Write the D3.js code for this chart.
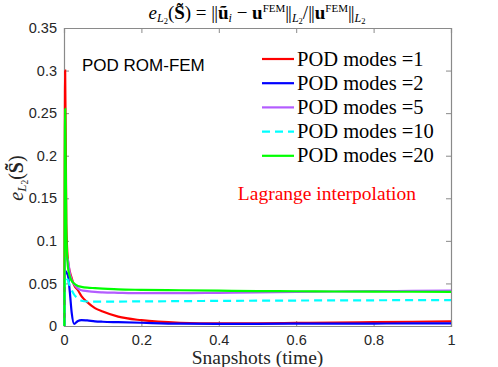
<!DOCTYPE html>
<html><head><meta charset="utf-8">
<script src="https://cdn.jsdelivr.net/npm/d3@7"></script>
<style>body{margin:0;background:#fff}</style>
</head><body>
<svg id="c" width="498" height="367"></svg>
<script>
const times = [0.001,0.003,0.006,0.01,0.015,0.02,0.026,0.036,0.045,0.06,0.08,0.1,0.14,0.2,0.3,0.4,0.5,0.6,0.7,0.8,0.9,1.0];
const modes1  = [0,0.30,0.12,0.077,0.064,0.056,0.048,0.042,0.035,0.028,0.021,0.017,0.011,0.0068,0.0038,0.003,0.0032,0.0036,0.004,0.0045,0.005,0.0055];
const modes2  = [0,0.065,0.063,0.06,0.04,0.015,0.0025,0.006,0.007,0.0065,0.0055,0.005,0.0045,0.0038,0.0028,0.0026,0.0026,0.0027,0.0028,0.0029,0.003,0.003];
const modes5  = [0,0.08,0.08,0.078,0.062,0.054,0.049,0.044,0.042,0.041,0.040,0.0395,0.039,0.0385,0.0385,0.039,0.0395,0.040,0.0405,0.041,0.0412,0.0415];
const modes10 = [0,0.058,0.056,0.054,0.047,0.042,0.037,0.0325,0.0297,0.0288,0.0286,0.0286,0.0287,0.0289,0.0292,0.0295,0.0297,0.0299,0.0301,0.0302,0.0304,0.0305];
const modes20 = [0,0.255,0.11,0.07,0.058,0.053,0.05,0.047,0.046,0.045,0.0445,0.044,0.043,0.0425,0.042,0.0415,0.041,0.0408,0.0405,0.0403,0.0402,0.040];
const seriesNames = ["POD modes =1","POD modes =2","POD modes =5","POD modes =10","POD modes =20"];
const xTicks = [0,0.2,0.4,0.6,0.8,1];
const yTicks = [0,0.05,0.1,0.15,0.2,0.25,0.3,0.35];

const series = [
  {name:seriesNames[0], vals:modes1,  color:"#ff0000", dash:null},
  {name:seriesNames[1], vals:modes2,  color:"#0000ff", dash:null},
  {name:seriesNames[2], vals:modes5,  color:"#b35cff", dash:null},
  {name:seriesNames[3], vals:modes10, color:"#00ffff", dash:"8,5"},
  {name:seriesNames[4], vals:modes20, color:"#00ff00", dash:null}
];

const L=64,R=451,T=28,B=326;
const svg=d3.select("#c");
const x=d3.scaleLinear().domain([0,1]).range([L,R]);
const y=d3.scaleLinear().domain([0,0.35]).range([B,T]);
const axisCol="#8a8a8a", txtCol="#262626";
const sans="'Liberation Sans', Arial, sans-serif";
const serif="'Liberation Serif','Times New Roman',serif";

// axes
const gx=svg.append("g").attr("transform",`translate(0,${B})`).call(d3.axisBottom(x).tickValues(xTicks).tickSize(-5).tickPadding(9).tickFormat(d=>d3.format("")(d)));
const gxt=svg.append("g").attr("transform",`translate(0,${T})`).call(d3.axisTop(x).tickValues(xTicks).tickSize(-5).tickFormat(""));
const gy=svg.append("g").attr("transform",`translate(${L},0)`).call(d3.axisLeft(y).tickValues(yTicks).tickSize(-5).tickPadding(7).tickFormat(d=>d3.format("")(+d.toFixed(2))));
const gyr=svg.append("g").attr("transform",`translate(${R},0)`).call(d3.axisRight(y).tickValues(yTicks).tickSize(-5).tickFormat(""));
[gx,gxt,gy,gyr].forEach(g=>{
  g.selectAll("path").attr("stroke",axisCol).attr("stroke-width",1.2);
  g.selectAll("line").attr("stroke",axisCol);
  g.selectAll("text").attr("fill",txtCol).style("font-family",sans).style("font-size","14.5px");
});

// lines
const line=d3.line().x(d=>x(d[0])).y(d=>y(d[1])).curve(d3.curveMonotoneX);
series.forEach(s=>{
  svg.append("path").datum(times.map((t,i)=>[t,s.vals[i]]))
    .attr("d",line).attr("fill","none").attr("stroke",s.color).attr("stroke-width",2.2)
    .attr("stroke-dasharray",s.dash);
});

// legend
series.forEach((s,i)=>{
  const yy=59+i*24.2;
  svg.append("line").attr("x1",262).attr("x2",294).attr("y1",yy).attr("y2",yy)
    .attr("stroke",s.color).attr("stroke-width",2.2).attr("stroke-dasharray",s.dash);
  svg.append("text").attr("x",297).attr("y",yy+6.5).text(s.name)
    .style("font-family",serif).style("font-size","20.5px").attr("fill","#000");
});

svg.append("text").attr("x",82).attr("y",71).text("POD ROM-FEM")
  .style("font-family",sans).style("font-size","17px").attr("fill","#000");
svg.append("text").attr("x",416).attr("y",200).attr("text-anchor","end").text("Lagrange interpolation")
  .style("font-family",serif).style("font-size","19.5px").attr("fill","#ff0000");

// x label
svg.append("text").attr("x",(L+R)/2).attr("y",364).attr("text-anchor","middle").text("Snapshots (time)")
  .style("font-family",serif).style("font-size","19.5px").attr("fill",txtCol);

// y label
const yl=svg.append("text").attr("transform","translate(23,178) rotate(-90)").attr("text-anchor","middle")
  .style("font-family",serif).style("font-size","20px").attr("fill",txtCol);
yl.append("tspan").style("font-style","italic").text("e");
yl.append("tspan").attr("dy",3).style("font-size","13px").style("font-style","italic").text("L");
yl.append("tspan").attr("dy",2).style("font-size","9.5px").text("2");
yl.append("tspan").attr("dy",-5).text("(");
yl.append("tspan").style("font-weight","bold").text("S\u0303");
yl.append("tspan").text(")");

// title
const bar="||";
const tt=svg.append("text").attr("x",257).attr("y",19).attr("text-anchor","middle")
  .style("font-family",serif).style("font-size","19px").attr("fill","#000");
tt.append("tspan").style("font-style","italic").text("e");
tt.append("tspan").attr("dy",3).style("font-size","12px").style("font-style","italic").text("L");
tt.append("tspan").attr("dy",2).style("font-size","8.5px").text("2");
tt.append("tspan").attr("dy",-5).text("(");
tt.append("tspan").style("font-weight","bold").text("S\u0303");
tt.append("tspan").text(") = ");
tt.append("tspan").style("letter-spacing","-1px").text(bar);
tt.append("tspan").attr("dx",1).style("font-weight","bold").text("u\u0303");
tt.append("tspan").attr("dy",3).style("font-size","12px").style("font-style","italic").text("i");
tt.append("tspan").attr("dy",-3).text(" \u2212 ");
tt.append("tspan").style("font-weight","bold").text("u");
tt.append("tspan").attr("dy",-7).style("font-size","11px").text("FEM");
tt.append("tspan").attr("dy",7).style("letter-spacing","-1px").text(bar);
tt.append("tspan").attr("dx",1).attr("dy",3).style("font-size","12px").style("font-style","italic").text("L");
tt.append("tspan").attr("dy",2).style("font-size","8.5px").text("2");
tt.append("tspan").attr("dy",-5).text("/");
tt.append("tspan").style("letter-spacing","-1px").text(bar);
tt.append("tspan").attr("dx",1).style("font-weight","bold").text("u");
tt.append("tspan").attr("dy",-7).style("font-size","11px").text("FEM");
tt.append("tspan").attr("dy",7).style("letter-spacing","-1px").text(bar);
tt.append("tspan").attr("dx",1).attr("dy",3).style("font-size","12px").style("font-style","italic").text("L");
tt.append("tspan").attr("dy",2).style("font-size","8.5px").text("2");
</script>
</body></html>
